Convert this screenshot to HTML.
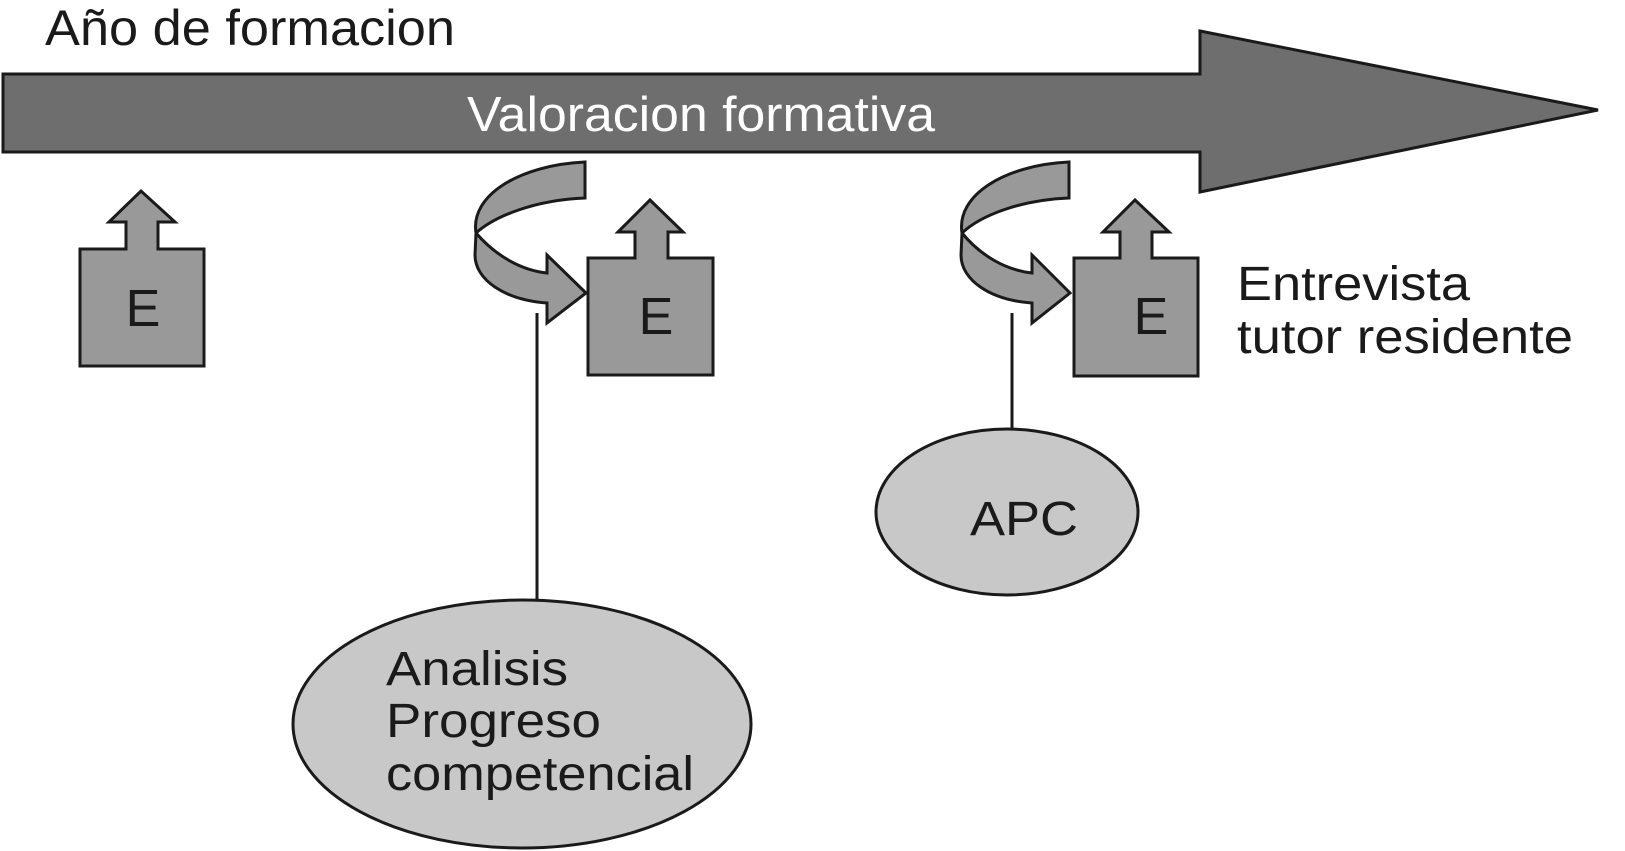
<!DOCTYPE html>
<html><head><meta charset="utf-8"><style>html,body{margin:0;padding:0;background:#fff}svg{display:block}</style></head>
<body>
<svg width="1625" height="851" viewBox="0 0 1625 851" xmlns="http://www.w3.org/2000/svg" font-family="Liberation Sans, Arial, sans-serif">
<rect width="1625" height="851" fill="#fff"/>
<text x="45" y="45" font-size="50" fill="#1a1a1a" textLength="410" lengthAdjust="spacingAndGlyphs">Año de formacion</text>
<polygon points="3,74 1200,74 1200,31 1598,110 1200,192 1200,152 3,152" fill="#6e6e6e" stroke="#1a1a1a" stroke-width="3"/>
<text x="467" y="131" font-size="49" fill="#fff" textLength="468" lengthAdjust="spacingAndGlyphs">Valoracion formativa</text>
<g fill="#999" stroke="#1a1a1a" stroke-width="3" stroke-linejoin="miter">
<polygon points="80,249 126,249 126,222 109,222 141,191 175,222 158,222 158,249 204,249 204,366 80,366"/>
<polygon points="588,258 635,258 635,232 618,232 650,200 683,232 668,232 668,258 713,258 713,375 588,375"/>
<polygon points="1074,258 1120,258 1120,232 1103,232 1135,200 1169,232 1152,232 1152,258 1198,258 1198,376 1074,376"/>
<path d="M585,162 L585,198 C535,200 495,216 476,233 C470,195 520,165 585,162 Z"/>
<path d="M476,233 C495,255 520,270 547,273 L547,255 L586,293 L547,323 L547,303 C505,300 475,280 475,255 Z"/>
<path d="M1069,162 L1069,198 C1019,200 980,216 962,233 C956,195 1005,165 1069,162 Z"/>
<path d="M962,233 C980,255 1005,270 1032,273 L1032,255 L1070,293 L1032,323 L1032,303 C990,300 961,280 961,255 Z"/>
</g>
<g font-size="52" fill="#1a1a1a" text-anchor="middle">
<text x="143" y="326">E</text>
<text x="656" y="334">E</text>
<text x="1151" y="334">E</text>
</g>
<line x1="537" y1="313" x2="537" y2="600" stroke="#1a1a1a" stroke-width="3"/>
<line x1="1012" y1="313" x2="1012" y2="428" stroke="#1a1a1a" stroke-width="3"/>
<ellipse cx="522" cy="724" rx="229" ry="124" fill="#c8c8c8" stroke="#1a1a1a" stroke-width="3"/>
<ellipse cx="1007" cy="512" rx="131" ry="83" fill="#c8c8c8" stroke="#1a1a1a" stroke-width="3"/>
<g font-size="48" fill="#1a1a1a">
<text x="386" y="685" textLength="182" lengthAdjust="spacingAndGlyphs">Analisis</text>
<text x="386" y="737" textLength="215" lengthAdjust="spacingAndGlyphs">Progreso</text>
<text x="386" y="790" textLength="308" lengthAdjust="spacingAndGlyphs">competencial</text>
<text x="970" y="535" textLength="108" lengthAdjust="spacingAndGlyphs">APC</text>
<text x="1237" y="300" textLength="233" lengthAdjust="spacingAndGlyphs">Entrevista</text>
<text x="1237" y="353" textLength="336" lengthAdjust="spacingAndGlyphs">tutor residente</text>
</g>
</svg>
</body></html>
